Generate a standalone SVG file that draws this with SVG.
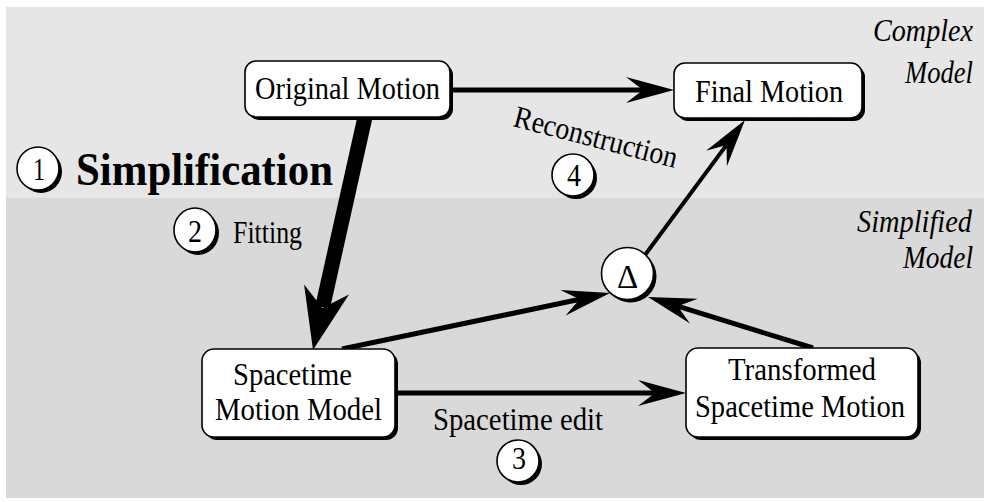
<svg xmlns="http://www.w3.org/2000/svg" width="984" height="502" viewBox="0 0 984 502">
<style>
.t{font-family:"Liberation Serif","Times New Roman",Times,serif;font-size:31px;fill:#000}
.it{font-style:italic}
.b{font-weight:bold;font-size:47px}
.box{fill:#fff;stroke:#000;stroke-width:1.6}
.sh{fill:#000}
.ln{stroke:#000;stroke-width:5;fill:none}
.ah{fill:#000}
</style>
<defs>
<path id="ah" d="M0,0 L-48,-13 L-31,0 L-48,13 Z"/>
<path id="ahBig" d="M0,0 L-62,-23 L-43,0 L-62,23 Z"/>
</defs>
<rect x="6" y="7" width="978" height="192" fill="#e6e6e6"/>
<rect x="6" y="198" width="978" height="300" fill="#d9d9d9"/>

<g id="labels">
<text class="t it" x="973" y="41" text-anchor="end" textLength="100" lengthAdjust="spacingAndGlyphs">Complex</text>
<text class="t it" x="973" y="83" text-anchor="end" textLength="68" lengthAdjust="spacingAndGlyphs">Model</text>
<text class="t it" x="972" y="232" text-anchor="end" textLength="115" lengthAdjust="spacingAndGlyphs">Simplified</text>
<text class="t it" x="973" y="268" text-anchor="end" textLength="70" lengthAdjust="spacingAndGlyphs">Model</text>
</g>

<g id="connectors">
<line class="ln" x1="453" y1="90" x2="645" y2="90"/>
<use href="#ah" class="ah" transform="translate(674,90)"/>
<line class="ln" x1="395" y1="393" x2="656" y2="393"/>
<use href="#ah" class="ah" transform="translate(686,393)"/>
<line class="ln" x1="342" y1="349" x2="580" y2="299.3"/>
<use href="#ah" class="ah" transform="translate(610,293) rotate(-11.8)"/>
<line class="ln" x1="813" y1="348" x2="677.6" y2="306.2"/>
<use href="#ah" class="ah" transform="translate(648,297) rotate(-162.8)"/>
<line class="ln" style="stroke-width:4" x1="645" y1="255" x2="726.6" y2="144.9"/>
<use href="#ah" class="ah" transform="translate(745,120) rotate(-53.5)"/>
<line class="ln" style="stroke-width:15" x1="365" y1="117" x2="322.6" y2="307.1"/>
<use href="#ahBig" class="ah" transform="translate(313,350) rotate(102.6)"/>
</g>

<g id="original-motion">
<rect class="sh" x="248" y="64" width="205" height="56" rx="11"/>
<rect class="box" x="245" y="61" width="205" height="56" rx="11"/>
<text class="t" x="255" y="99" textLength="185" lengthAdjust="spacingAndGlyphs">Original Motion</text>
</g>

<g id="final-motion">
<rect class="sh" x="677" y="66" width="188" height="55" rx="11"/>
<rect class="box" x="674" y="63" width="188" height="55" rx="11"/>
<text class="t" x="695" y="102" textLength="148" lengthAdjust="spacingAndGlyphs">Final Motion</text>
</g>

<g id="spacetime-model">
<rect class="sh" x="205" y="352" width="193" height="88" rx="12"/>
<rect class="box" x="202" y="349" width="193" height="88" rx="12"/>
<text class="t" x="233" y="385" textLength="119" lengthAdjust="spacingAndGlyphs">Spacetime</text>
<text class="t" x="215" y="420" textLength="167" lengthAdjust="spacingAndGlyphs">Motion Model</text>
</g>

<g id="transformed">
<rect class="sh" x="689" y="351" width="232" height="89" rx="12"/>
<rect class="box" x="686" y="348" width="232" height="89" rx="12"/>
<text class="t" x="728" y="380" textLength="148" lengthAdjust="spacingAndGlyphs">Transformed</text>
<text class="t" x="695" y="417" textLength="210" lengthAdjust="spacingAndGlyphs">Spacetime Motion</text>
</g>

<g id="delta">
<circle class="sh" cx="630.5" cy="276.5" r="26"/>
<circle class="box" cx="627.5" cy="273.5" r="26"/>
<text class="t" x="627.5" y="288" text-anchor="middle" style="font-size:33px">Δ</text>
</g>

<g id="step1">
<ellipse class="sh" cx="41" cy="171.5" rx="21" ry="21.5"/>
<ellipse class="box" cx="38" cy="168.5" rx="21" ry="21.5"/>
<text class="t" x="39" y="180" text-anchor="middle" textLength="12" lengthAdjust="spacingAndGlyphs">1</text>
<text class="t b" x="76" y="185" textLength="257" lengthAdjust="spacingAndGlyphs">Simplification</text>
</g>

<g id="step2">
<ellipse class="sh" cx="198" cy="233" rx="21" ry="22"/>
<ellipse class="box" cx="195" cy="230" rx="21" ry="22"/>
<text class="t" x="195" y="242" text-anchor="middle" textLength="14" lengthAdjust="spacingAndGlyphs">2</text>
<text class="t" x="233" y="243" textLength="69" lengthAdjust="spacingAndGlyphs">Fitting</text>
</g>

<g id="step3">
<ellipse class="sh" cx="521" cy="464" rx="21" ry="21"/>
<ellipse class="box" cx="518" cy="461" rx="21" ry="21"/>
<text class="t" x="519" y="469" text-anchor="middle" textLength="14" lengthAdjust="spacingAndGlyphs">3</text>
<text class="t" x="433" y="430" textLength="170" lengthAdjust="spacingAndGlyphs">Spacetime edit</text>
</g>

<g id="step4">
<ellipse class="sh" cx="576" cy="178" rx="21" ry="21"/>
<ellipse class="box" cx="573" cy="175" rx="21" ry="21"/>
<text class="t" x="574" y="186" text-anchor="middle" textLength="14" lengthAdjust="spacingAndGlyphs">4</text>
<text class="t" transform="translate(512,126) rotate(14.5)" textLength="168" lengthAdjust="spacingAndGlyphs">Reconstruction</text>
</g>
</svg>
